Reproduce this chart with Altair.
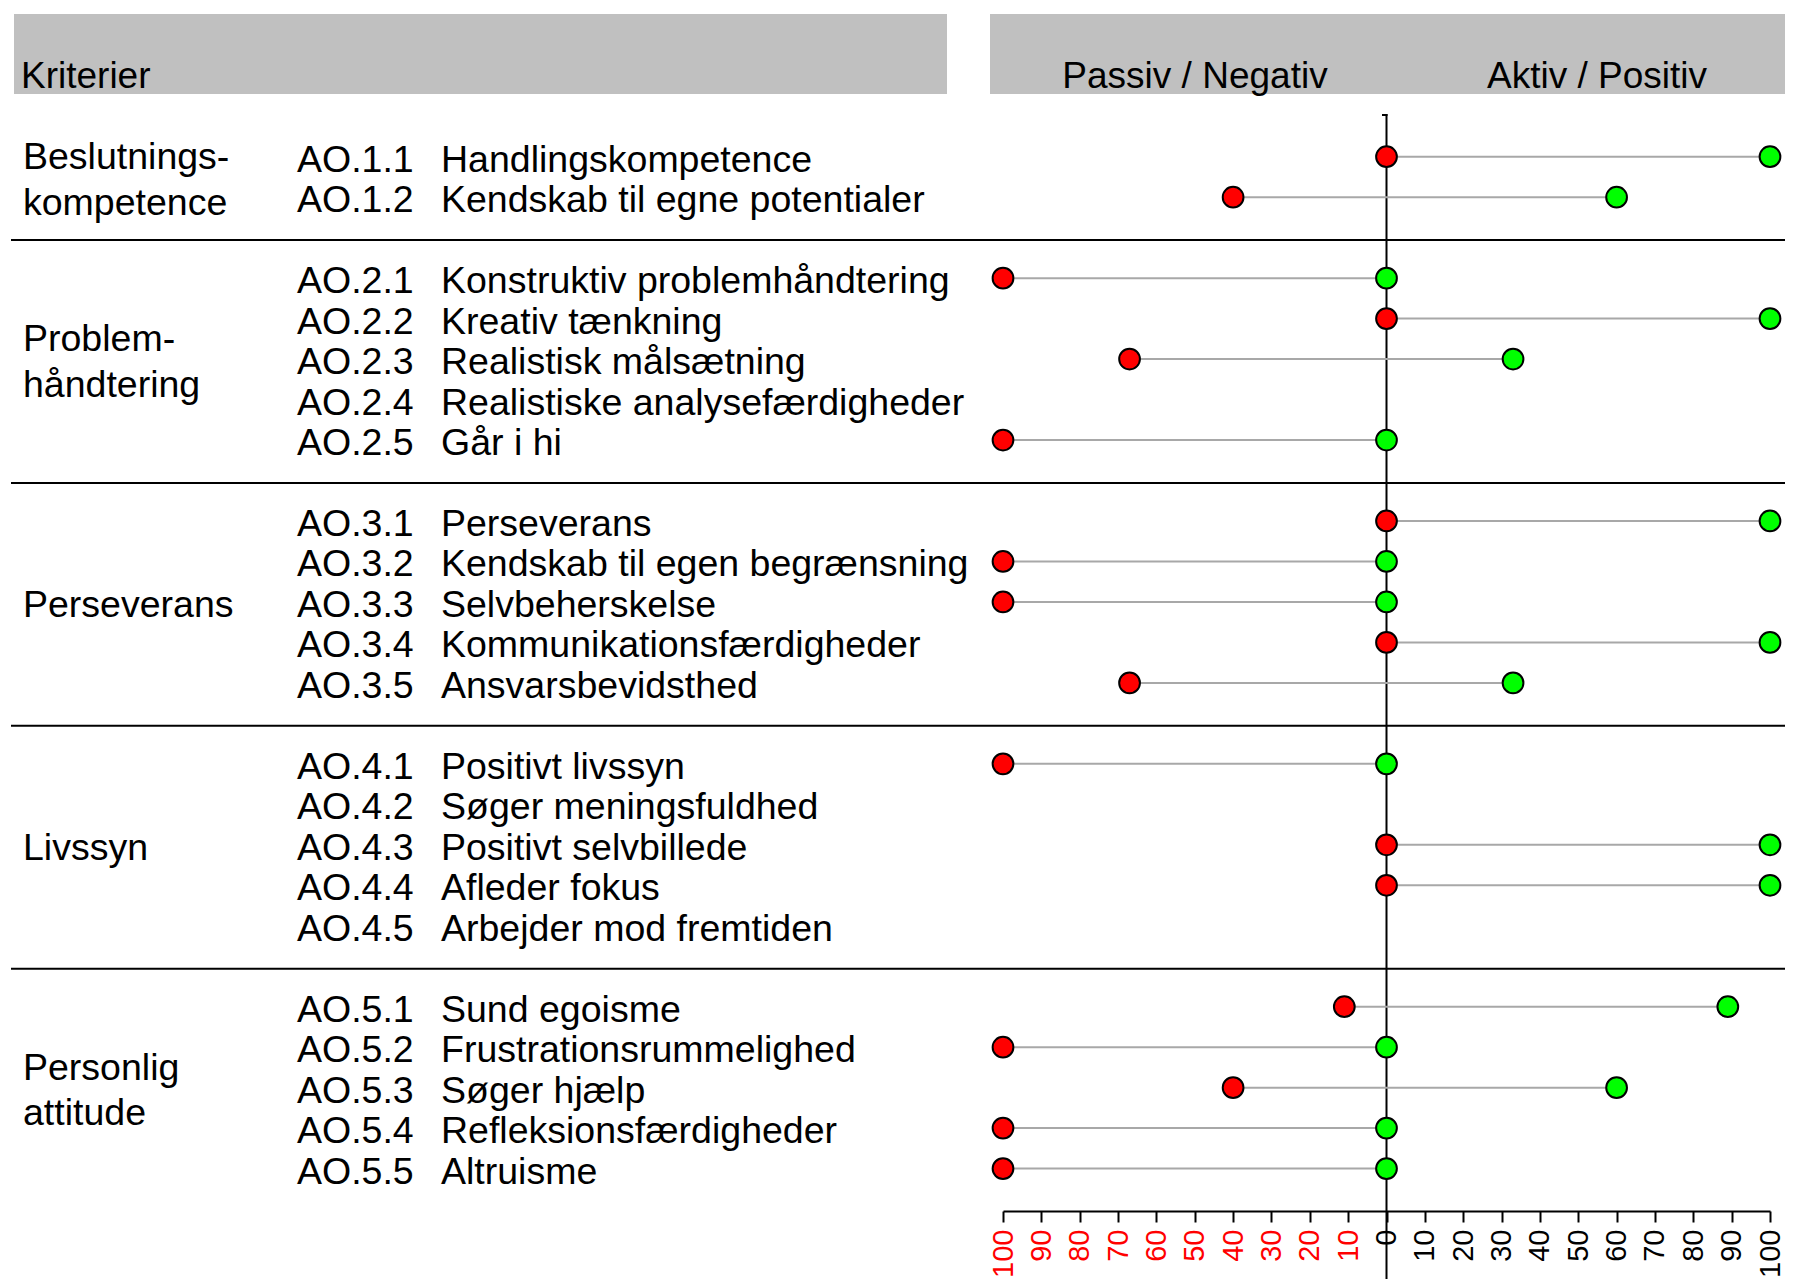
import altair as alt
import pandas as pd

# ---------------- data ----------------
group_names = [
    ["Beslutnings-", "kompetence"],
    ["Problem-", "håndtering"],
    ["Perseverans"],
    ["Livssyn"],
    ["Personlig", "attitude"],
]
codes = [
    ["AO.1.1", "AO.1.2"],
    ["AO.2.1", "AO.2.2", "AO.2.3", "AO.2.4", "AO.2.5"],
    ["AO.3.1", "AO.3.2", "AO.3.3", "AO.3.4", "AO.3.5"],
    ["AO.4.1", "AO.4.2", "AO.4.3", "AO.4.4", "AO.4.5"],
    ["AO.5.1", "AO.5.2", "AO.5.3", "AO.5.4", "AO.5.5"],
]
item_labels = [
    ["Handlingskompetence", "Kendskab til egne potentialer"],
    ["Konstruktiv problemhåndtering", "Kreativ tænkning", "Realistisk målsætning",
     "Realistiske analysefærdigheder", "Går i hi"],
    ["Perseverans", "Kendskab til egen begrænsning", "Selvbeherskelse",
     "Kommunikationsfærdigheder", "Ansvarsbevidsthed"],
    ["Positivt livssyn", "Søger meningsfuldhed", "Positivt selvbillede",
     "Afleder fokus", "Arbejder mod fremtiden"],
    ["Sund egoisme", "Frustrationsrummelighed", "Søger hjælp",
     "Refleksionsfærdigheder", "Altruisme"],
]
# red (passive / negative) and green (active / positive) values per item
red_vals = [
    [0, -40],
    [-100, 0, -67, None, -100],
    [0, -100, -100, 0, -67],
    [-100, None, 0, 0, None],
    [-11, -100, -40, -100, -100],
]
green_vals = [
    [100, 60],
    [0, 100, 33, None, 0],
    [100, 0, 0, 100, 33],
    [0, None, 100, 100, None],
    [89, 0, 60, 0, 0],
]
tick_values = list(range(-100, 101, 10))
header_left = "Kriterier"
header_neg = "Passiv / Negativ"
header_pos = "Aktiv / Positiv"

# ---------------- build tables ----------------
rows, glines, seps = [], [], []
start = 0
for g, items in enumerate(codes):
    n = len(items)
    if g > 0:
        seps.append({"row": start - 0.94})
    for i in range(n):
        rows.append({
            "row": start + i,
            "code": items[i],
            "label": item_labels[g][i],
            "red": red_vals[g][i],
            "green": green_vals[g][i],
        })
    center = start + (n - 1) / 2
    names = group_names[g]
    if len(names) == 1:
        glines.append({"row": center, "text": names[0]})
    else:
        glines.append({"row": center - 0.56, "text": names[0]})
        glines.append({"row": center + 0.56, "text": names[1]})
    start += n + 1

df = pd.DataFrame(rows)
dfv = df.dropna(subset=["red", "green"])
pts = pd.concat([
    dfv[["row", "red"]].rename(columns={"red": "v"}).assign(kind="red"),
    dfv[["row", "green"]].rename(columns={"green": "v"}).assign(kind="green"),
])
df_g = pd.DataFrame(glines)
df_s = pd.DataFrame(seps)
one = pd.DataFrame([{"a": 1}])

FONT = "Liberation Sans"
FS = 37.5
W, H, PB = 1777, 1203, 68

xscale = alt.Scale(domain=[-100, 100], range=[995, 1762], nice=False, zero=False)
yscale = alt.Scale(domain=[0, 25], range=[148.7, 1160.6], nice=False, zero=False)

xaxis = alt.Axis(
    values=tick_values, title=None, grid=False,
    labelExpr="abs(datum.value)",
    labelColor=alt.condition("datum.value < 0", alt.value("#ff0000"), alt.value("#000000")),
    labelAngle=270, labelFontSize=29, labelFont=FONT, labelPadding=7,
    labelOverlap=False, labelFlush=False, labelBound=False,
    tickSize=11, tickColor="#000000", tickWidth=2,
    domainColor="#000000", domainWidth=2,
)

# x axis carrier (invisible points)
axis_layer = alt.Chart(pd.DataFrame({"v": tick_values})).mark_point(opacity=0).encode(
    x=alt.X("v:Q", scale=xscale, axis=xaxis),
    y=alt.value(0),
)

hdr_l = alt.Chart(one).mark_rect(color="#c0c0c0").encode(
    x=alt.value(6), x2=alt.value(939), y=alt.value(6), y2=alt.value(86))
hdr_r = alt.Chart(one).mark_rect(color="#c0c0c0").encode(
    x=alt.value(982), x2=alt.value(W), y=alt.value(6), y2=alt.value(86))

hdr_t1 = alt.Chart(one).mark_text(text=header_left, font=FONT, fontSize=37, align="left",
                                  baseline="alphabetic", color="#000000").encode(
    x=alt.value(13), y=alt.value(80))
hdr_t2 = alt.Chart(one).mark_text(text=header_neg, font=FONT, fontSize=37, align="center",
                                  baseline="alphabetic", color="#000000").encode(
    x=alt.value(1187), y=alt.value(80))
hdr_t3 = alt.Chart(one).mark_text(text=header_pos, font=FONT, fontSize=37, align="center",
                                  baseline="alphabetic", color="#000000").encode(
    x=alt.value(1589), y=alt.value(80))

sep_layer = alt.Chart(df_s).mark_rule(color="#000000", strokeWidth=2).encode(
    x=alt.value(3), x2=alt.value(W),
    y=alt.Y("row:Q", scale=yscale, axis=None),
)

zero_line = alt.Chart(one).mark_rule(color="#000000", strokeWidth=2).encode(
    x=alt.X(datum=0, scale=xscale),
    y=alt.value(106), y2=alt.value(H + PB),
)
zero_cap = alt.Chart(one).mark_rule(color="#000000", strokeWidth=2).encode(
    x=alt.value(1374), x2=alt.value(1379.5), y=alt.value(107),
)

conn = alt.Chart(dfv).mark_rule(color="#a8a8a8", strokeWidth=2).encode(
    x=alt.X("red:Q", scale=xscale),
    x2="green:Q",
    y=alt.Y("row:Q", scale=yscale, axis=None),
)

dots = alt.Chart(pts).mark_point(filled=True, shape="circle", size=430,
                                 stroke="#000000", strokeWidth=2, opacity=1).encode(
    x=alt.X("v:Q", scale=xscale),
    y=alt.Y("row:Q", scale=yscale, axis=None),
    fill=alt.Fill("kind:N", scale=alt.Scale(domain=["red", "green"], range=["#ff0000", "#00ff00"]),
                  legend=None),
)

code_txt = alt.Chart(df).mark_text(font=FONT, fontSize=FS, align="left", baseline="alphabetic",
                                   dy=15, color="#000000").encode(
    x=alt.value(289),
    y=alt.Y("row:Q", scale=yscale, axis=None),
    text="code:N",
)
label_txt = alt.Chart(df).mark_text(font=FONT, fontSize=FS, align="left", baseline="alphabetic",
                                    dy=15, color="#000000").encode(
    x=alt.value(433),
    y=alt.Y("row:Q", scale=yscale, axis=None),
    text="label:N",
)
group_txt = alt.Chart(df_g).mark_text(font=FONT, fontSize=FS, align="left", baseline="alphabetic",
                                      dy=15, color="#000000").encode(
    x=alt.value(15),
    y=alt.Y("row:Q", scale=yscale, axis=None),
    text="text:N",
)

chart = alt.layer(
    hdr_l, hdr_r, hdr_t1, hdr_t2, hdr_t3,
    axis_layer, sep_layer, zero_line, zero_cap, conn, dots,
    code_txt, label_txt, group_txt,
).properties(
    width=W, height=H,
    autosize=alt.AutoSizeParams(type="none"),
    padding={"left": 0, "top": 0, "right": 0, "bottom": PB},
    background="#ffffff",
).configure_view(stroke=None)

chart.save("out.html", embed_options={"renderer": "svg", "actions": False})
